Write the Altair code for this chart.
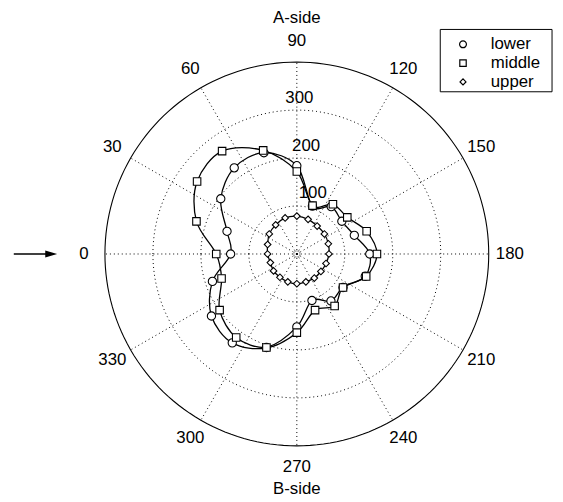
import altair as alt
import pandas as pd
import numpy as np

# ---- data (angle in degrees, radius in data units) ----
angles = list(range(0, 360, 18))
lower = [138, 153, 196, 222, 222, 184, 105, 122, 116, 126,
         152, 150, 119, 121, 102, 152, 205, 229, 220, 185]
middle = [168, 220, 257, 265, 227, 172, 106, 128, 130, 153,
          167, 152, 119, 134, 123, 164, 205, 215, 199, 165]
upper = [61, 64, 71, 75, 79, 79, 76, 72, 71, 69,
         67, 64, 62, 62, 61, 62, 61, 60, 60, 58]
series_names = ["lower", "middle", "upper"]
series_shapes = ["circle", "square", "diamond"]
marker_sizes = [70, 45, 80]
legend_sizes = [48, 36, 60]

ring_values = [100, 200, 300]
r_max = 400
spoke_angles = list(range(0, 360, 30))
angle_labels = [str(a) for a in spoke_angles]
side_labels = ["A-side", "B-side"]

# ---- layout ----
W, H = 553, 490
CX, CY = 292, 246          # plot coords of the pole
S = 194 / r_max            # px per data unit
FONT = "Liberation Sans"
FS = 17

xdom = [-CX / S, (W - CX) / S]
ydom = [-(H - CY) / S, CY / S]
X = lambda f: alt.X(f, type="quantitative", scale=alt.Scale(domain=xdom, nice=False, zero=False), axis=None)
Y = lambda f: alt.Y(f, type="quantitative", scale=alt.Scale(domain=ydom, nice=False, zero=False), axis=None)

polar_x = "-datum.r*cos(datum.theta*PI/180)"
polar_y = "datum.r*sin(datum.theta*PI/180)"

# data table
rows = []
for name, vals in zip(series_names, [lower, middle, upper]):
    for a, r in zip(angles, vals):
        rows.append({"series": name, "theta": a, "r": r})
df = pd.DataFrame(rows)

# grid circles
circle_t = np.arange(0, 361, 2)
df_rings = pd.DataFrame([{"ring": rv, "theta": t, "r": rv} for rv in ring_values for t in circle_t])
df_outer = pd.DataFrame([{"theta": t, "r": r_max} for t in circle_t])
df_spokes = pd.DataFrame({"theta": spoke_angles, "r": r_max, "label": angle_labels})
df_rlab = pd.DataFrame({"ring": ring_values, "label": [str(v) for v in ring_values]})
df_leg = pd.DataFrame({"series": series_names, "idx": list(range(len(series_names)))})

rings = alt.Chart(df_rings).mark_line(color="black", strokeWidth=1, strokeDash=[1, 3]).transform_calculate(
    x=polar_x, y=polar_y).encode(x=X("x"), y=Y("y"), detail="ring:N", order="theta:Q")

outer = alt.Chart(df_outer).mark_line(color="black", strokeWidth=1.1).transform_calculate(
    x=polar_x, y=polar_y).encode(x=X("x"), y=Y("y"), order="theta:Q")

spokes = alt.Chart(df_spokes).mark_rule(color="black", strokeWidth=1, strokeDash=[1, 3]).transform_calculate(
    x=polar_x, y=polar_y, x0="0", y0="0").encode(x=X("x0"), y=Y("y0"), x2="x:Q", y2="y:Q")

alabels = alt.Chart(df_spokes).mark_text(font=FONT, fontSize=FS, color="black", align="center",
                                         baseline="middle").transform_calculate(
    rl="444", x="-datum.rl*cos(datum.theta*PI/180)", y="datum.rl*sin(datum.theta*PI/180)"
).encode(x=X("x"), y=Y("y"), text="label:N")

rlabels = alt.Chart(df_rlab).mark_text(font=FONT, fontSize=FS, color="black", align="left",
                                       baseline="bottom", dx=9, dy=-2).transform_calculate(
    rl="datum.ring + 5", x="-datum.rl*cos(82*PI/180)", y="datum.rl*sin(82*PI/180)"
).encode(x=X("x"), y=Y("y"), text="label:N")

lines = alt.Chart(df).mark_line(color="black", strokeWidth=1.3, interpolate="cardinal-closed").transform_calculate(
    x=polar_x, y=polar_y).encode(x=X("x"), y=Y("y"), detail="series:N", order="theta:Q")

points = alt.Chart(df).mark_point(filled=False, color="black", fill="white", fillOpacity=1,
                                  strokeWidth=1.1, opacity=1).transform_calculate(
    x=polar_x, y=polar_y).encode(
    x=X("x"), y=Y("y"),
    shape=alt.Shape("series:N", scale=alt.Scale(domain=series_names, range=series_shapes), legend=None),
    size=alt.Size("series:N", scale=alt.Scale(domain=series_names, range=marker_sizes), legend=None),
)

center = alt.Chart(pd.DataFrame({"theta": [0], "r": [0]})).mark_point(
    shape="circle", size=40, stroke="#777", strokeWidth=1, filled=False).transform_calculate(
    x=polar_x, y=polar_y).encode(x=X("x"), y=Y("y"))

sides = alt.Chart(pd.DataFrame({"label": side_labels, "yy": [491.5, -489]})).mark_text(
    font=FONT, fontSize=FS, color="black", align="center", baseline="middle").encode(
    x=alt.value(CX), y=Y("yy"), text="label:N")

arrow_x = [-590, -512]
arrow_df = pd.DataFrame({"x": [arrow_x[0]], "x2": [arrow_x[1]], "y": [0]})
shaft = alt.Chart(arrow_df).mark_rule(color="black", strokeWidth=1.5).encode(x=X("x"), x2="x2:Q", y=Y("y"))
head = alt.Chart(arrow_df).mark_point(shape="M-1,-0.6L1,0L-1,0.6Z", size=144, filled=True,
                                      color="black", opacity=1).encode(x=X("x2"), y=Y("y"))

# ---- legend box (drawn in pixel space) ----
leg_box = alt.Chart(pd.DataFrame({"k": [0]})).mark_rect(fill="white", stroke="black", strokeWidth=1).encode(
    x=alt.value(437), x2=alt.value(550), y=alt.value(19), y2=alt.value(82))
leg_sym = alt.Chart(df_leg).mark_point(filled=False, color="black", fill="white", fillOpacity=1,
                                       strokeWidth=1.2, opacity=1).transform_calculate(
    py="34 + 19*datum.idx").encode(
    x=alt.value(460), y=alt.Y("py:Q", scale=None, axis=None),
    shape=alt.Shape("series:N", scale=alt.Scale(domain=series_names, range=series_shapes), legend=None),
    size=alt.Size("series:N", scale=alt.Scale(domain=series_names, range=legend_sizes), legend=None),
)
leg_txt = alt.Chart(df_leg).mark_text(font=FONT, fontSize=FS, color="black", align="left",
                                      baseline="middle").transform_calculate(
    py="34 + 19*datum.idx").encode(
    x=alt.value(488), y=alt.Y("py:Q", scale=None, axis=None), text="series:N")

legend = alt.layer(leg_box, leg_sym, leg_txt)

chart = alt.layer(rings, outer, spokes, alabels, rlabels, lines, points, center, sides, shaft, head,
                  legend).resolve_scale(size="independent", y="independent").properties(
    width=W, height=H, padding=0, autosize=alt.AutoSizeParams(type="none"),
    background="white"
).configure_view(stroke=None)

chart.save("out.html", embed_options={"renderer": "svg", "actions": False})
